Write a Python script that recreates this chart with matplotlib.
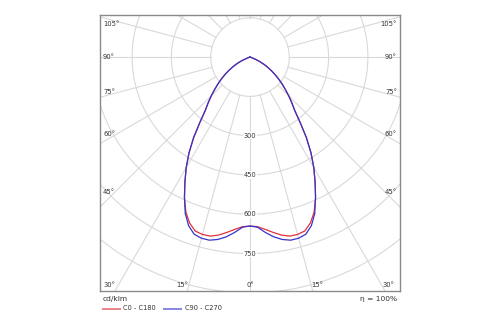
import numpy as np
import matplotlib
matplotlib.use("Agg")
import matplotlib.pyplot as plt

# gamma angles (deg from nadir) and intensities (cd/klm)
gamma = [0, 2.5, 5, 7.5, 10, 12.5, 15, 17.5, 20, 22.5, 25, 27.5, 30, 32.5, 35,
         37.5, 40, 42.5, 45, 47.5, 50, 52.5, 55, 57.5, 60, 62.5, 65, 67.5, 70, 72.5, 90]
c0_c180 = [645, 648, 660, 675, 690, 700, 701, 696, 674, 640, 592, 538, 487, 433, 375,
           314, 265, 236, 209, 183, 160, 138, 117, 97, 78, 60, 42, 24, 8, 0, 0]
c90_c270 = [645, 650, 672, 692, 707, 716, 716, 709, 685, 646, 592, 538, 487, 433, 375,
            314, 265, 236, 209, 183, 160, 138, 117, 97, 78, 60, 42, 24, 8, 0, 0]

ring_values = [150, 300, 450, 600, 750, 900]
ring_labels = [300, 450, 600, 750]
spoke_angles = np.arange(0, 360, 15)

# side / bottom angle labels (text, axes-fraction position)
side_labels = [("105°", 0.967), ("90°", 0.848), ("75°", 0.721), ("60°", 0.569), ("45°", 0.359)]
bottom_labels = [("30°", 0.033), ("15°", 0.275), ("0°", 0.5), ("15°", 0.725), ("30°", 0.96)]

red = "#e0303c"
blue = "#3535cc"
grid_c = "#d9d9d9"

fig = plt.figure(figsize=(5, 3.25), dpi=100)
ax = fig.add_axes([0.2, 0.1046, 0.6, 0.849])
ax.set_xlim(-572.5, 572.5)
ax.set_ylim(-893, 160.3)
ax.set_xticks([])
ax.set_yticks([])
for s in ax.spines.values():
    s.set_color("#8a8a8a")
    s.set_linewidth(1.0)

# grid rings
t = np.linspace(0, 2 * np.pi, 400)
for r in ring_values:
    ax.plot(r * np.sin(t), r * np.cos(t), color=grid_c, lw=0.8, zorder=1)

# spokes from the inner ring outwards
for a in spoke_angles:
    th = np.radians(a)
    ax.plot([150 * np.sin(th), 2000 * np.sin(th)],
            [-150 * np.cos(th), -2000 * np.cos(th)],
            color=grid_c, lw=0.8, zorder=1)

# ring value labels on the nadir axis
for v in ring_labels:
    ax.text(0, -v, str(v), ha="center", va="center", fontsize=4.8, color="#333333",
            bbox=dict(facecolor="white", edgecolor="none", pad=0.6), zorder=2)


def curve(vals):
    g = np.radians(np.array(gamma))
    r = np.array(vals, dtype=float)
    gg = np.concatenate([-g[::-1], g[1:]])
    rr = np.concatenate([r[::-1], r[1:]])
    return rr * np.sin(gg), -rr * np.cos(gg)


x, y = curve(c0_c180)
ax.plot(x, y, color=red, lw=0.9, zorder=3)
x, y = curve(c90_c270)
ax.plot(x, y, color=blue, lw=0.9, zorder=4)

for txt, yy in side_labels:
    ax.text(0.01, yy, txt, transform=ax.transAxes, ha="left", va="center",
            fontsize=4.9, color="#333333", zorder=5)
    ax.text(0.99, yy, txt, transform=ax.transAxes, ha="right", va="center",
            fontsize=4.9, color="#333333", zorder=5)
for txt, xx in bottom_labels:
    ax.text(xx, 0.02, txt, transform=ax.transAxes, ha="center", va="center",
            fontsize=4.9, color="#333333", zorder=5)

# footer
fig.text(103 / 500, 1 - 299 / 325, "cd/klm", ha="left", va="center", fontsize=5.4, color="#333333")
fig.text(397 / 500, 1 - 299 / 325, "η = 100%", ha="right", va="center", fontsize=5.4, color="#333333")
ly = 1 - 308.5 / 325
fig.add_artist(plt.Line2D([103 / 500, 120 / 500], [ly, ly], color=red, lw=1.4, alpha=0.6))
fig.text(123 / 500, ly, "C0 - C180", ha="left", va="center", fontsize=4.8, color="#333333")
fig.add_artist(plt.Line2D([164 / 500, 181 / 500], [ly, ly], color=blue, lw=1.4, alpha=0.6))
fig.text(185 / 500, ly, "C90 - C270", ha="left", va="center", fontsize=4.8, color="#333333")

fig.savefig("out.png", dpi=100)
